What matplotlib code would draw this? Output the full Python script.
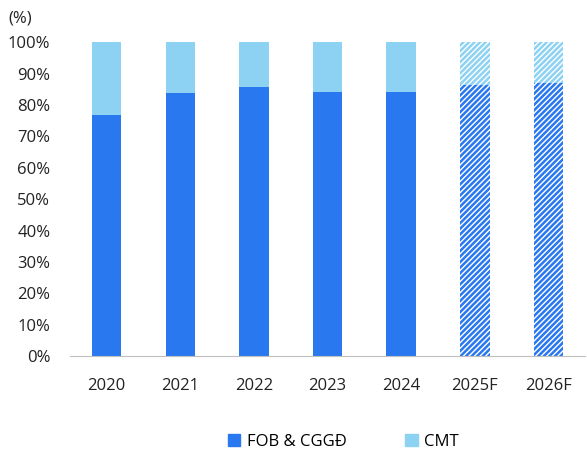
import numpy as np
import matplotlib.pyplot as plt

plt.rcParams['font.family'] = ['Open Sans', 'DejaVu Sans']
plt.rcParams['hatch.linewidth'] = 1.8

years = ['2020', '2021', '2022', '2023', '2024', '2025F', '2026F']
fob = [76.8, 83.8, 85.7, 84.1, 84.1, 86.3, 86.9]
cmt = [100 - v for v in fob]
forecast = [False, False, False, False, False, True, True]

dark = '#2A78F0'
light = '#8DD2F3'

fig = plt.figure(figsize=(5.87, 4.59), dpi=100)
ax = fig.add_axes([0.119, 0.224, 0.878, 0.684])

x = np.arange(len(years))
w = 0.4
for i in range(len(years)):
    if forecast[i]:
        ax.bar(x[i], fob[i], w, color='white', edgecolor=dark, hatch='//////', linewidth=0)
        ax.bar(x[i], cmt[i], w, bottom=fob[i], color='white', edgecolor=light, hatch='//////', linewidth=0)
    else:
        ax.bar(x[i], fob[i], w, color=dark, linewidth=0)
        ax.bar(x[i], cmt[i], w, bottom=fob[i], color=light, linewidth=0)

ax.set_xlim(-0.5, len(years) - 0.5)
ax.set_ylim(0, 100)
ax.set_xticks(x)
ax.set_xticklabels(years, fontsize=12)
ax.set_yticks(np.arange(0, 101, 10))
ax.set_yticklabels([f'{v}%' for v in range(0, 101, 10)], fontsize=12)
ax.tick_params(axis='x', length=0, pad=16, colors='#222222')
ax.tick_params(axis='y', length=0, pad=14, colors='#222222')
for s in ['top', 'right', 'left']:
    ax.spines[s].set_visible(False)
ax.spines['bottom'].set_color('#BFBFBF')

fig.text(0.014, 0.96, '(%)', fontsize=12, color='#222222', va='center')

h1 = plt.Rectangle((0, 0), 1, 1, color=dark)
h2 = plt.Rectangle((0, 0), 1, 1, color=light)
fig.legend([h1, h2], ['FOB & CGGĐ', 'CMT'], loc='center', bbox_to_anchor=(0.585, 0.037),
           ncol=2, frameon=False, fontsize=12, handlelength=0.75, handleheight=0.75,
           handletextpad=0.4, columnspacing=3.5)

fig.savefig('out.png', dpi=100)
